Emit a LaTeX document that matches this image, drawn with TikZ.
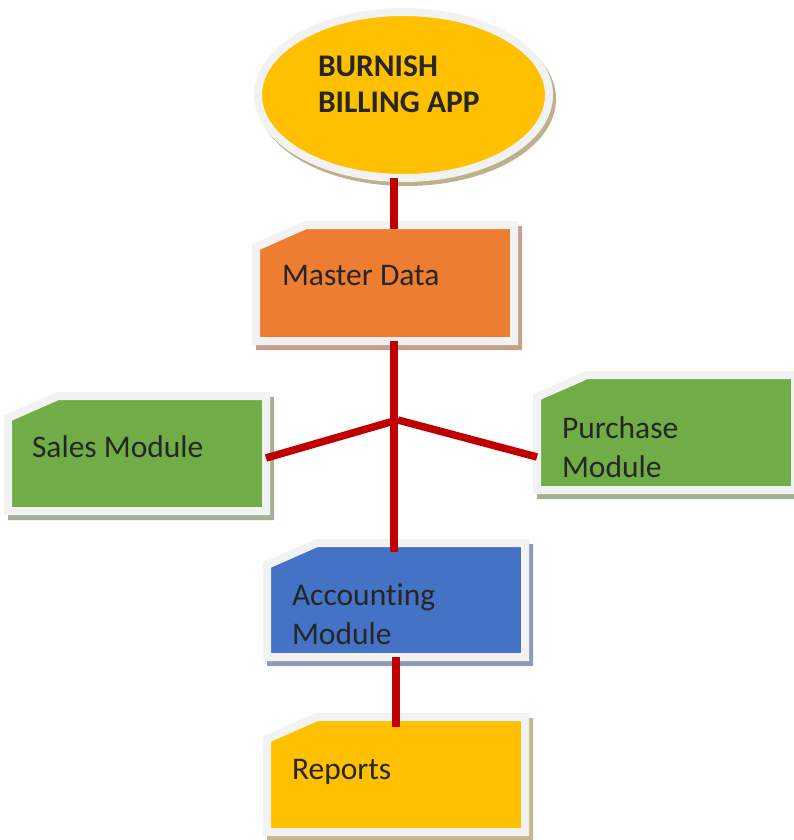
\documentclass[tikz,border=0pt]{standalone}
\usepackage{fontspec}
\setmainfont[Ligatures=NoCommon]{Carlito}
\usetikzlibrary{shapes.geometric}
\definecolor{borderwhite}{HTML}{F2F2F2}
\definecolor{cOrange}{HTML}{ED7D31}
\definecolor{cGreen}{HTML}{70AD47}
\definecolor{cBlue}{HTML}{4472C4}
\definecolor{cYellow}{HTML}{FFC000}
\definecolor{cRed}{HTML}{C00000}
\definecolor{cText}{HTML}{262626}
\definecolor{sOrange}{HTML}{C4A18A}
\definecolor{sGreen}{HTML}{A3B096}
\definecolor{sBlue}{HTML}{8E9BB8}
\definecolor{sYellow}{HTML}{C6B58D}
\definecolor{sEllipse}{HTML}{BFB08C}
\newcommand{\snipshape}[3]{%
  \path[draw=borderwhite, fill=#2, line width=8pt, line join=miter,
    preaction={draw=#3, fill=#3, line width=8pt, transform canvas={xshift=4pt,yshift=-5pt}}]
    ([xshift=50pt]#1.north west) -- (#1.north east) -- (#1.south east)
    -- (#1.south west) -- ([yshift=-22pt]#1.north west) -- cycle;}
\tikzset{
  boxarea/.style={rectangle, draw=none, inner sep=0pt, outer sep=0pt},
  appoval/.style={
    ellipse, draw=borderwhite, fill=cYellow, line width=8pt,
    inner sep=0pt, outer sep=0pt, minimum width=291pt, minimum height=166pt,
    preaction={draw=sEllipse, fill=sEllipse, line width=8pt, transform canvas={xshift=3pt,yshift=-4pt}}
  },
  lbl/.style={anchor=base west, inner sep=0pt, outer sep=0pt, text=cText,
    font=\fontsize{31.5}{39}\selectfont, align=left},
  titlelbl/.style={anchor=base west, inner sep=0pt, outer sep=0pt, text=cText,
    font=\fontsize{31.5}{36}\selectfont\bfseries, align=left},
  conn/.style={draw=cRed, line width=7.5pt}
}
\begin{document}
\begin{tikzpicture}[x=1pt,y=-1pt]
\useasboundingbox (0,0) rectangle (794,840);
% shapes
\node[appoval] (app) at (403.5,95) {};
\node[boxarea, minimum width=258pt, minimum height=116pt] (master) at (385,283) {};
\node[boxarea, minimum width=258pt, minimum height=115pt] (sales) at (137,453.5) {};
\node[boxarea, minimum width=258pt, minimum height=115pt] (purchase) at (666,432.5) {};
\node[boxarea, minimum width=258pt, minimum height=114pt] (acct) at (396,600) {};
\node[boxarea, minimum width=258pt, minimum height=115pt] (reports) at (396,774.5) {};
\snipshape{master}{cOrange}{sOrange}
\snipshape{sales}{cGreen}{sGreen}
\snipshape{purchase}{cGreen}{sGreen}
\snipshape{acct}{cBlue}{sBlue}
\snipshape{reports}{cYellow}{sYellow}
% labels
\node[titlelbl] (apptext) at (318,113) {BURNISH\\BILLING APP};
\node[lbl] (mastertext) at (282,285) {Master Data};
\node[lbl] (salestext) at (32,457) {Sales Module};
\node[lbl] (purchasetext) at (562,477) {Purchase\\Module};
\node[lbl] (accttext) at (292,644) {Accounting\\Module};
\node[lbl] (reportstext) at (292,779) {Reports};
% connectors
\coordinate (j) at (394,421);
\coordinate (jr) at (398,420);
\draw[conn] (app.south -| j) -- ([yshift=-4pt]master.north -| j);
\draw[conn] (master.south -| j) -- ([yshift=-9pt]acct.north -| j);
\draw[conn] ([yshift=-4.5pt]sales.east) -- (j);
\draw[conn] (jr) -- ([yshift=-24.5pt]purchase.west);
\draw[conn] (acct.south) -- ([yshift=-10pt]reports.north);
\end{tikzpicture}
\end{document}
